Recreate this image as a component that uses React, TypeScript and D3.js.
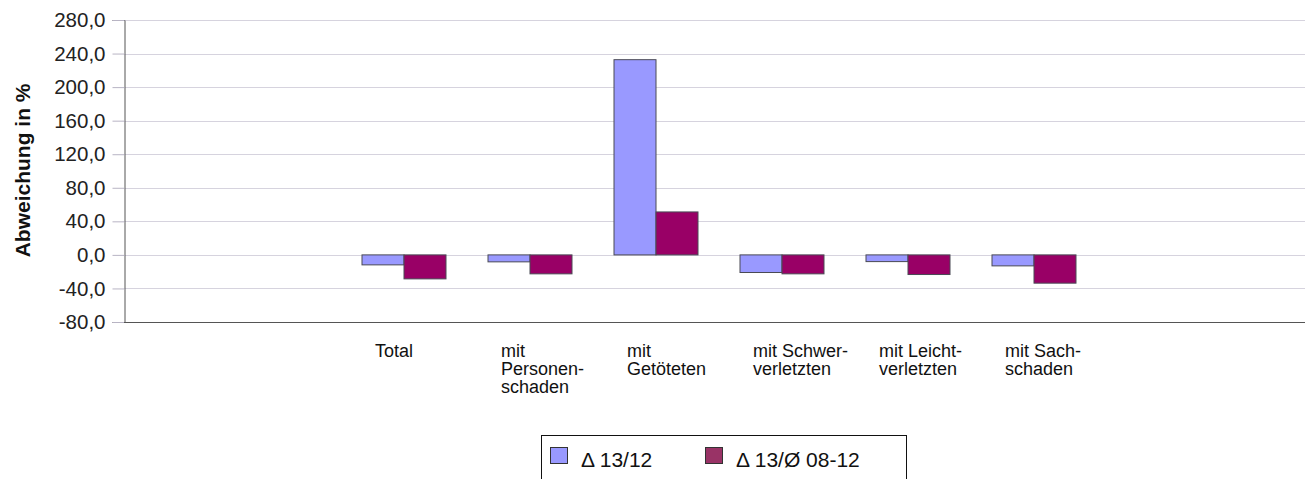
import { useEffect, useRef } from "react";
import * as d3 from "d3";

// categories, each label split into its lines
const categories = ["Total", "Personenschaden", "Getöteten", "Schwerverletzten", "Leichtverletzten", "Sachschaden"];
const categoryLines = [
    ["Total"],
    ["mit", "Personen-", "schaden"],
    ["mit", "Getöteten"],
    ["mit Schwer-", "verletzten"],
    ["mit Leicht-", "verletzten"],
    ["mit Sach-", "schaden"],
];

// Δ 13/12
const delta1312 = [-11.9, -8.3, 232.7, -21.0, -8.0, -13.1];
// Δ 13/Ø 08-12
const delta13avg = [-28.6, -22.6, 51.2, -22.6, -23.4, -33.7];

const seriesNames = ["Δ 13/12", "Δ 13/Ø 08-12"];
const yTicks = [-80, -40, 0, 40, 80, 120, 160, 200, 240, 280];

const App = () => {
    const ref = useRef<SVGSVGElement>(null);

    useEffect(() => {
        const svg = d3.select(ref.current);
        svg.selectAll("*").remove();

        const width = 1306;
        const height = 479;
        const margin = { top: 20, right: 1, bottom: 157, left: 124 };
        const font = "'Liberation Sans', Arial, sans-serif";

        const y = d3.scaleLinear()
            .domain([-80, 280])
            .range([height - margin.bottom, margin.top]);

        const x = d3.scaleBand()
            .domain(categories)
            .range([320, 1118])
            .paddingInner(1 / 3)
            .paddingOuter(1 / 3);

        const x1 = d3.scaleBand()
            .domain(seriesNames)
            .range([0, x.bandwidth()]);

        const colors = ["#9999ff", "#990066"];

        // gridlines
        svg.append("g")
            .selectAll("line")
            .data(yTicks.filter(d => d > -80))
            .enter().append("line")
            .attr("x1", margin.left)
            .attr("x2", width - margin.right)
            .attr("y1", d => Math.round(y(d)) + 0.5)
            .attr("y2", d => Math.round(y(d)) + 0.5)
            .attr("stroke", "#d6d3de")
            .attr("stroke-width", 1);

        // y axis, comma decimals and plain hyphen minus
        const yAxis = svg.append("g")
            .attr("transform", `translate(${margin.left + 0.5},0)`)
            .call(d3.axisLeft(y).tickValues(yTicks).tickSize(12).tickPadding(7)
                .tickFormat(d => (d as number).toFixed(1).replace(".", ",")));
        yAxis.select(".domain").attr("stroke", "#555555");
        yAxis.selectAll(".tick line").attr("stroke", "#b8b4c4");
        yAxis.selectAll(".tick text")
            .attr("font-family", font)
            .attr("font-size", 20.5)
            .attr("fill", "#222");

        // y label
        svg.append("text")
            .attr("transform", `translate(30,${(y(0) + y(280)) / 2 + 33}) rotate(-90)`)
            .attr("text-anchor", "middle")
            .attr("font-family", font)
            .attr("font-size", 21)
            .attr("font-weight", "bold")
            .attr("fill", "#111")
            .text("Abweichung in %");

        // bars
        const series = [delta1312, delta13avg];
        series.forEach((values, si) => {
            svg.append("g")
                .selectAll("rect")
                .data(values)
                .enter().append("rect")
                .attr("x", (d, i) => x(categories[i])! + x1(seriesNames[si])!)
                .attr("y", d => y(Math.max(0, d)))
                .attr("width", x1.bandwidth())
                .attr("height", d => Math.abs(y(d) - y(0)))
                .attr("fill", colors[si])
                .attr("stroke", "#4a4a55")
                .attr("stroke-width", 1);
        });

        // x axis line
        svg.append("line")
            .attr("x1", margin.left)
            .attr("x2", width - margin.right)
            .attr("y1", Math.round(y(-80)) + 0.5)
            .attr("y2", Math.round(y(-80)) + 0.5)
            .attr("stroke", "#555555");

        // category labels
        categories.forEach((c, i) => {
            const t = svg.append("text")
                .attr("font-family", font)
                .attr("font-size", 18)
                .attr("fill", "#111");
            categoryLines[i].forEach((line, li) => {
                t.append("tspan")
                    .attr("x", x(c)! + 13)
                    .attr("y", 357 + li * 18)
                    .text(line);
            });
        });

        // legend
        const legend = svg.append("g").attr("transform", "translate(541,435)");
        legend.append("rect")
            .attr("x", 0.5)
            .attr("y", 0.5)
            .attr("width", 365)
            .attr("height", 70)
            .attr("fill", "white")
            .attr("stroke", "#111");
        const legendColors = ["#9999ff", "#993366"];
        const legendX = [9, 164];
        seriesNames.forEach((name, i) => {
            legend.append("rect")
                .attr("x", legendX[i] + 0.5)
                .attr("y", 12.5)
                .attr("width", 17)
                .attr("height", 16)
                .attr("fill", legendColors[i])
                .attr("stroke", "#333");
            legend.append("text")
                .attr("x", legendX[i] + 31)
                .attr("y", 32)
                .attr("font-family", font)
                .attr("font-size", 21)
                .attr("fill", "#111")
                .text(name);
        });
    }, []);

    return (
        <svg
            ref={ref}
            width={1306}
            height={479}
            style={{ position: "absolute", left: 0, top: 0, background: "white" }}
        />
    );
};

export default App;
